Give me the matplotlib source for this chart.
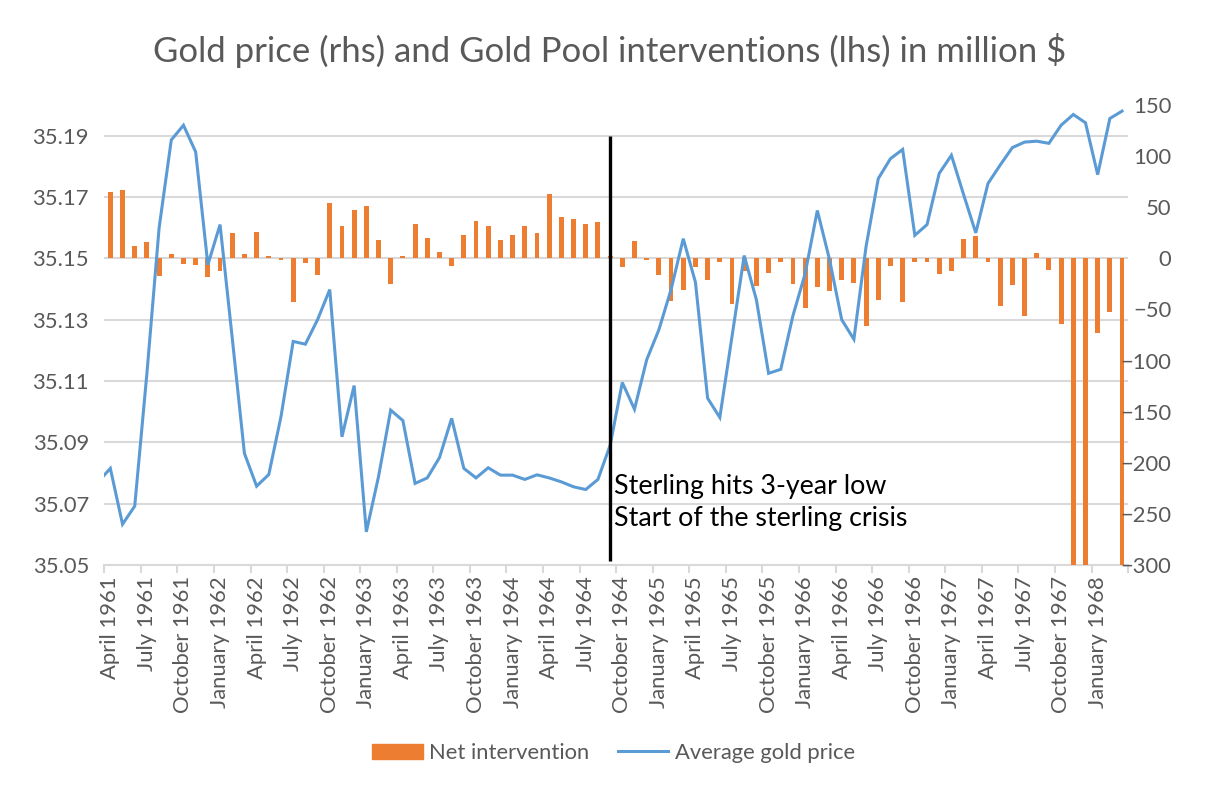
import matplotlib.pyplot as plt
import matplotlib.ticker as mticker
from matplotlib.patches import Patch
from matplotlib.lines import Line2D
import pandas as pd

plt.rcParams['font.family'] = ['Lato', 'DejaVu Sans']

months = list(pd.date_range('1961-04-01', periods=84, freq='MS').strftime('%B %Y'))

# average gold price, $ per ounce (left axis)
price_march_1961 = 35.0771   # value before the first month, cut off at the left edge
gold_price = [
    35.0815, 35.0633, 35.0692, 35.1125, 35.1599, 35.1886, 35.1934, 35.1847, 35.1479, 35.1610,
    35.1240, 35.0864, 35.0757, 35.0795, 35.0984, 35.1229, 35.1220, 35.1300, 35.1398, 35.0918,
    35.1085, 35.0608, 35.0788, 35.1005, 35.0971, 35.0766, 35.0784, 35.0850, 35.0978, 35.0815,
    35.0784, 35.0817, 35.0793, 35.0793, 35.0779, 35.0794, 35.0784, 35.0771, 35.0755, 35.0746,
    35.0779, 35.0890, 35.1095, 35.1008, 35.1169, 35.1267, 35.1398, 35.1564, 35.1422, 35.1044,
    35.0981, 35.1245, 35.1509, 35.1365, 35.1125, 35.1138, 35.1313, 35.1450, 35.1656, 35.1496,
    35.1300, 35.1236, 35.1539, 35.1760, 35.1825, 35.1855, 35.1575, 35.1610, 35.1777, 35.1836,
    35.1708, 35.1583, 35.1744, 35.1804, 35.1861, 35.1879, 35.1882, 35.1875, 35.1934, 35.1969,
    35.1942, 35.1773, 35.1956, 35.1980,
]

# Gold Pool net intervention, million $ (right axis)
net_intervention = [
    64.5, 67.2, 12.4, 15.6, -17.6, 4.6, -5.5, -6.8, -18.6, -12.7,
    24.8, 4.6, 25.8, 2.0, -1.3, -43.0, -4.9, -16.6, 54.1, 32.0,
    47.6, 51.5, 17.9, -24.8, 2.0, 33.9, 20.2, 6.2, -7.8, 23.1,
    36.8, 32.0, 17.9, 23.1, 32.0, 24.8, 62.6, 40.1, 38.8, 33.3,
    35.9, 2.0, -8.8, 17.3, -2.0, -16.6, -41.4, -30.6, -8.5, -20.9,
    -3.9, -44.7, -12.0, -27.4, -14.0, -3.3, -24.8, -48.9, -28.4, -32.3,
    -21.5, -24.1, -65.9, -41.1, -7.8, -42.4, -3.6, -3.6, -15.3, -12.7,
    19.2, 21.5, -3.9, -46.9, -26.4, -56.7, 5.2, -11.1, -63.9, -450.0,
    -520.0, -73.0, -52.8, -610.0,
]

event_month = 'September 1964'
event_text = 'Sterling hits 3-year low\nStart of the sterling crisis'
event_top = 35.19
event_bottom = 35.0512

price_ticks = [35.05, 35.07, 35.09, 35.11, 35.13, 35.15, 35.17, 35.19]
flow_ticks = [-300, -250, -200, -150, -100, -50, 0, 50, 100, 150]

grey = '#595959'
grid_grey = '#D9D9D9'
orange = '#ED7D31'
blue = '#5B9BD5'
fs = 15.8

fig = plt.figure(figsize=(12.08, 7.87), dpi=100)
ax = fig.add_axes([0.0863, 0.2821, 0.8476, 0.5845])
ax_bar = ax.twinx()
ax_line = ax.twinx()

x = list(range(len(months)))

# base axis: grid, left labels, category axis
ax.set_ylim(35.05, 35.20)
ax.set_yticks(price_ticks)
ax.yaxis.set_major_formatter(mticker.FormatStrFormatter('%.2f'))
ax.grid(axis='y', color=grid_grey, lw=1.5)
ax.set_axisbelow(True)
ax.tick_params(axis='y', length=0, pad=11, labelsize=fs, labelcolor=grey)
ax.set_xlim(-0.5, len(months) - 0.5)
ax.set_xticks(x[::3])
ax.set_xticklabels(months[::3], rotation=90, ha='center', va='top')
ax.set_xticks([i - 0.5 for i in range(0, len(months) + 1, 3)], minor=True)
ax.tick_params(axis='x', which='major', length=0, pad=8, labelsize=fs, labelcolor=grey)
ax.tick_params(axis='x', which='minor', length=6, width=1.5, color=grid_grey)

for a in (ax, ax_bar, ax_line):
    for s in a.spines.values():
        s.set_visible(False)
ax.spines['bottom'].set_visible(True)
ax.spines['bottom'].set_color(grid_grey)
ax.spines['bottom'].set_linewidth(1.5)

# bars on the right scale
ax_bar.bar(x, net_intervention, width=0.4, color=orange)
ax_bar.set_ylim(-300, 150)
ax_bar.set_yticks(flow_ticks)
ax_bar.tick_params(axis='y', length=0, pad=31, labelsize=fs, labelcolor=grey)
for lab in ax_bar.get_yticklabels():
    lab.set_horizontalalignment('right')

# price line on top
ax_line.plot([-1] + x, [price_march_1961] + gold_price, color=blue, lw=2.2,
             solid_joinstyle='miter')
ax_line.set_ylim(ax.get_ylim())
ax_line.set_yticks([])

ev = months.index(event_month)
ax_line.vlines(ev, event_bottom, event_top, color='black', lw=2.4)
ax_line.text(ev + 0.3, 35.0797, event_text, fontsize=19.3, color='black',
             va='top', ha='left', linespacing=1.35)

fig.text(0.505, 0.936, 'Gold price (rhs) and Gold Pool interventions (lhs) in million $',
         ha='center', va='center', fontsize=25, color=grey)

handles = [Patch(color=orange, label='Net intervention'),
           Line2D([], [], color=blue, lw=2.2, label='Average gold price')]
fig.legend(handles=handles, loc='center', bbox_to_anchor=(0.508, 0.043), ncol=2,
           frameon=False, fontsize=fs, labelcolor=grey, handlelength=2.3,
           handletextpad=0.3, columnspacing=1.3)

fig.savefig('out.png', dpi=100)
